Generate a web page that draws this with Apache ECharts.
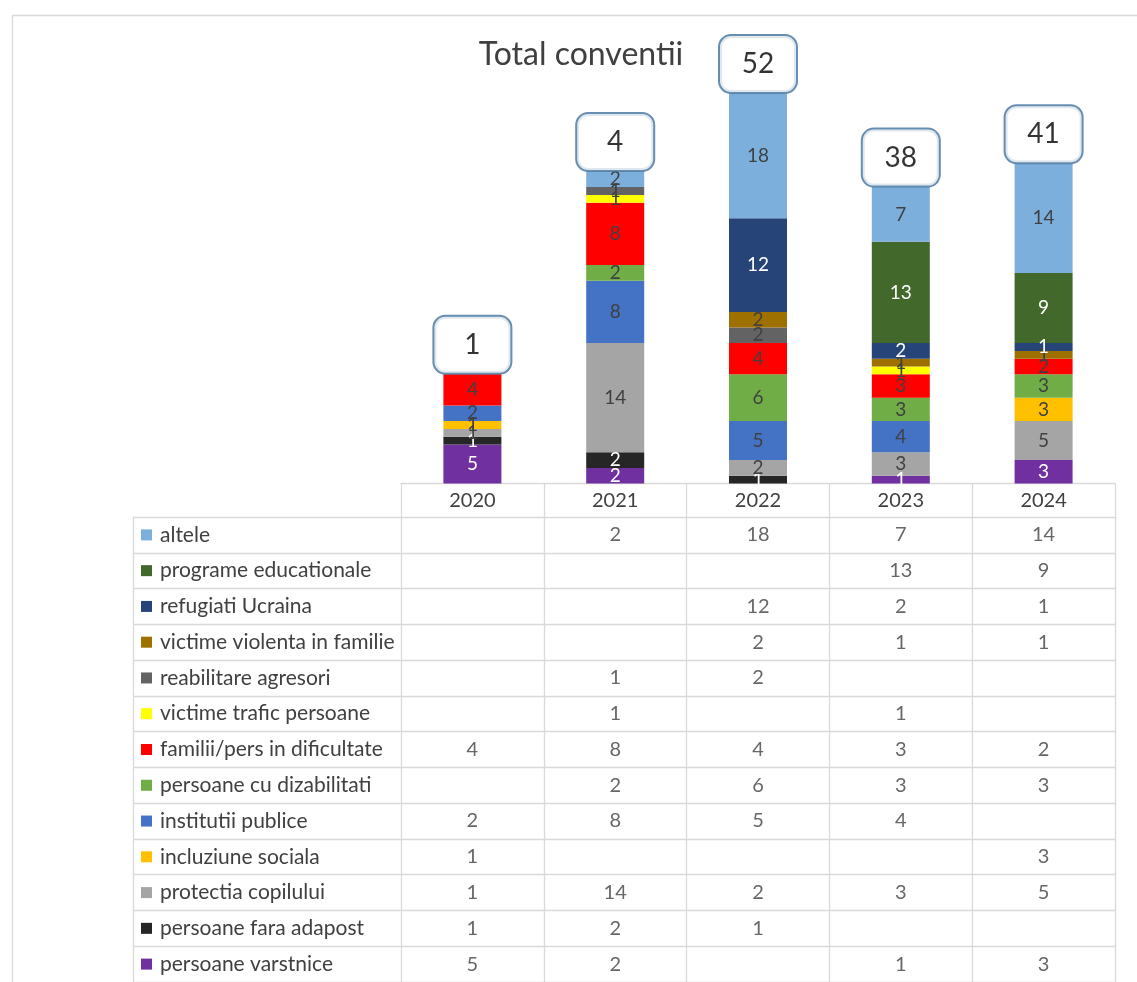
<!DOCTYPE html>
<html>
<head>
<meta charset="utf-8">
<script src="https://cdn.jsdelivr.net/npm/echarts@6/dist/echarts.min.js"></script>
<style>
html,body{margin:0;padding:0;background:#fff;}
#c{width:1137px;height:982px;}
</style>
</head>
<body>
<div id="c"></div>
<script>
// ---- data ----
var years = ['2020', '2021', '2022', '2023', '2024'];
// table order (top to bottom); stacking order is the reverse
var names = ['altele', 'programe educationale', 'refugiati Ucraina', 'victime violenta in familie',
  'reabilitare agresori', 'victime trafic persoane', 'familii/pers in dificultate',
  'persoane cu dizabilitati', 'institutii publice', 'incluziune sociala', 'protectia copilului',
  'persoane fara adapost', 'persoane varstnice'];
var altele       = [null, 2, 18, 7, 14];
var programe     = [null, null, null, 13, 9];
var refugiati    = [null, null, 12, 2, 1];
var violenta     = [null, null, 2, 1, 1];
var reabilitare  = [null, 1, 2, null, null];
var trafic       = [null, 1, null, 1, null];
var familii      = [4, 8, 4, 3, 2];
var dizabilitati = [null, 2, 6, 3, 3];
var institutii   = [2, 8, 5, 4, null];
var incluziune   = [1, null, null, null, 3];
var protectia    = [1, 14, 2, 3, 5];
var faraAdapost  = [1, 2, 1, null, null];
var varstnice    = [5, 2, null, 1, 3];
var totalLabels  = ['1', '4', '52', '38', '41'];
var yMax = 50;

var values = [altele, programe, refugiati, violenta, reabilitare, trafic, familii,
  dizabilitati, institutii, incluziune, protectia, faraAdapost, varstnice];
var colors = ['#7DAFDD', '#43682B', '#264478', '#9E7000', '#636363', '#FFFF00', '#FF0000',
  '#70AD47', '#4472C4', '#FFC000', '#A5A5A5', '#262626', '#7030A0'];
var whiteLabel = [false, true, true, false, false, false, false, false, false, false, false, true, true];

var FONT = 'Lato, "Open Sans", sans-serif';
var GRID_LEFT = 401, GRID_RIGHT = 22;
var ROW_TOP = 517, ROW_H = 36;

var series = [];
for (var i = names.length - 1; i >= 0; i--) {
  series.push({
    name: names[i], type: 'bar', stack: 'total', xAxisIndex: 0, yAxisIndex: 0,
    barWidth: 58, data: values[i],
    itemStyle: { color: colors[i] },
    label: {
      show: true, position: 'inside', fontFamily: FONT, fontSize: 19,
      color: whiteLabel[i] ? '#FFFFFF' : '#404040',
      textBorderWidth: 0
    }
  });
}
// totals (callout boxes)
var totalPts = years.map(function (y, j) {
  var s = 0;
  values.forEach(function (arr) { s += arr[j] || 0; });
  return [j, Math.min(s, yMax)];
});
series.push({
  type: 'scatter', xAxisIndex: 0, yAxisIndex: 0, symbol: 'circle', symbolSize: 1, z: 10,
  itemStyle: { color: 'rgba(0,0,0,0)' },
  data: totalPts,
  label: {
    show: true, position: 'top', distance: 1,
    formatter: function (p) { return totalLabels[p.dataIndex]; },
    fontFamily: FONT, fontSize: 28, color: '#000',
    textBorderWidth: 0, textBorderColor: 'rgba(0,0,0,0)', textShadowBlur: 0,
    backgroundColor: '#fff', borderColor: '#41719C', borderWidth: 2, borderRadius: 11,
    shadowBlur: 0, shadowColor: 'rgba(0,0,0,0)',
    width: 56, align: 'center', padding: [14, 10]
  },
  emphasis: { disabled: true }
});
// table values
var cells = [];
values.forEach(function (arr, r) {
  arr.forEach(function (v, c) { if (v !== null) cells.push([c, r, v]); });
});
series.push({
  type: 'scatter', xAxisIndex: 1, yAxisIndex: 1, symbol: 'circle', symbolSize: 1, data: cells,
  itemStyle: { color: 'rgba(0,0,0,0)' },
  label: {
    show: true, position: 'inside', fontFamily: FONT, fontSize: 20, color: '#404040',
    textBorderWidth: 0,
    formatter: function (p) { return p.value[2]; }
  },
  emphasis: { disabled: true }
});

var rich = { g: { width: 8 }, t: { fontFamily: FONT, fontSize: 21, color: '#404040' } };
colors.forEach(function (c, i) { rich['k' + i] = { width: 11, height: 11, backgroundColor: c }; });

var gridLine = { show: true, lineStyle: { color: '#D9D9D9', width: 1.3 } };

var option = {
  animation: false,
  backgroundColor: '#fff',
  title: {
    text: 'Total conventii', left: 576, top: 34, textAlign: 'center',
    textStyle: { fontFamily: FONT, fontSize: 32, fontWeight: 'normal', color: '#404040' }
  },
  graphic: [{
    type: 'rect', left: 10, top: 13, silent: true,
    shape: { width: 1200, height: 1100 },
    style: { fill: 'none', stroke: '#D9D9D9', lineWidth: 1.3 }
  }],
  grid: [
    { left: GRID_LEFT, right: GRID_RIGHT, top: 93.5, height: 390 },
    { left: GRID_LEFT, right: GRID_RIGHT, top: ROW_TOP, height: ROW_H * names.length },
    { left: 133, width: GRID_LEFT - 133, top: ROW_TOP, height: ROW_H * names.length }
  ],
  xAxis: [
    {
      type: 'category', gridIndex: 0, data: years,
      axisLine: gridLine,
      axisTick: { show: true, length: 34, lineStyle: { color: '#D9D9D9', width: 1.3 } },
      axisLabel: { margin: 7, fontFamily: FONT, fontSize: 20, color: '#404040' },
      splitLine: { show: false }
    },
    {
      type: 'category', gridIndex: 1, data: years,
      axisLine: { show: false }, axisTick: { show: false }, axisLabel: { show: false },
      splitLine: { show: true, interval: 0, lineStyle: { color: '#D9D9D9', width: 1.3 } }
    },
    { type: 'value', gridIndex: 2, min: 0, max: 1, show: false }
  ],
  yAxis: [
    { type: 'value', gridIndex: 0, min: 0, max: yMax, show: false },
    {
      type: 'category', gridIndex: 1, data: names, inverse: true,
      axisLine: { show: false }, axisTick: { show: false }, axisLabel: { show: false },
      splitLine: { show: true, interval: 0, lineStyle: { color: '#D9D9D9', width: 1.3 } }
    },
    {
      type: 'category', gridIndex: 2, data: names, inverse: true,
      axisLine: gridLine, axisTick: { show: false },
      splitLine: { show: true, interval: 0, lineStyle: { color: '#D9D9D9', width: 1.3 } },
      axisLabel: {
        inside: true, margin: 8, interval: 0,
        formatter: function (v, idx) { return '{k' + idx + '|}{g|}{t|' + v + '}'; },
        rich: rich
      }
    }
  ],
  series: series
};

var chart = echarts.init(document.getElementById('c'), null, { renderer: 'canvas' });
chart.setOption(option);
</script>
</body>
</html>
